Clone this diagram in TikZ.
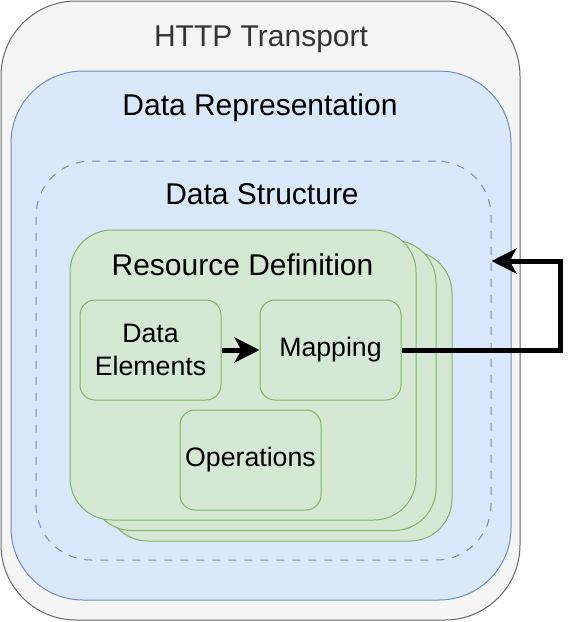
\documentclass[tikz,border=0pt]{standalone}
\usepackage{fontspec}
\setmainfont{Liberation Sans}
\usetikzlibrary{positioning, arrows.meta}

\definecolor{grayfill}{HTML}{F5F5F5}
\definecolor{grayline}{HTML}{666666}
\definecolor{graytext}{HTML}{333333}
\definecolor{bluefill}{HTML}{DAE8FC}
\definecolor{blueline}{HTML}{6C8EBF}
\definecolor{greenfill}{HTML}{D5E8D4}
\definecolor{greenline}{HTML}{82B366}

\tikzset{
  layer/.style={draw, line width=1pt, inner sep=0pt, rounded corners=#1},
  sheet/.style={layer=42pt, draw=greenline, fill=greenfill},
  part/.style={layer=15pt, draw=greenline, fill=greenfill, minimum width=141pt, minimum height=100pt,
    align=center, font=\fontsize{26.7}{33}\selectfont},
  title/.style={anchor=base, font=\fontsize{30}{36}\selectfont},
  flow/.style={line width=5pt, line join=miter, -{Stealth[length=25pt, width=25pt, inset=7pt]}}
}

\begin{document}
\begin{tikzpicture}[x=1pt, y=-1pt]
    \useasboundingbox (0,0) rectangle (572,622);

    % Nested layers
    \node[layer=75pt, draw=grayline, fill=grayfill, minimum width=519pt, minimum height=619pt] (http) at (260.5,310.5) {};
    \node[title, text=graytext] (httplbl) at (261,46) {HTTP Transport};

    \node[layer=72pt, draw=blueline, fill=bluefill, minimum width=500pt, minimum height=529pt] (repr) at (261,335.5) {};
    \node[title] (reprlbl) at (260,115) {Data Representation};

    \node[layer=55pt, draw=blueline, dash pattern=on 8pt off 8pt, minimum width=455pt, minimum height=399pt] (struct) at (263.5,360.5) {};
    \node[title] (structlbl) at (262,204) {Data Structure};

    % Stacked resource sheets, back to front
    \foreach \n/\cx/\cy in {3/279/396, 2/263/385.5, 1/243/375} {
      \node[sheet, minimum width=346pt, minimum height=290pt] (sheet\n) at (\cx,\cy) {};
    }
    \node[title] (reslbl) at (242.5,275) {Resource Definition};

    % Parts of a resource
    \node[part] (elem) at (150.5,350) {Data\\Elements};
    \node[part] (map) at (330.5,350) {Mapping};
    \node[part] (ops) at (250.5,460) {Operations};

    % Arrows
    \coordinate (ret) at (560,261);
    \draw[flow] (elem) -- (map);
    \draw[flow] (map) -| (ret) -- (ret -| struct.east);

\end{tikzpicture}
\end{document}
